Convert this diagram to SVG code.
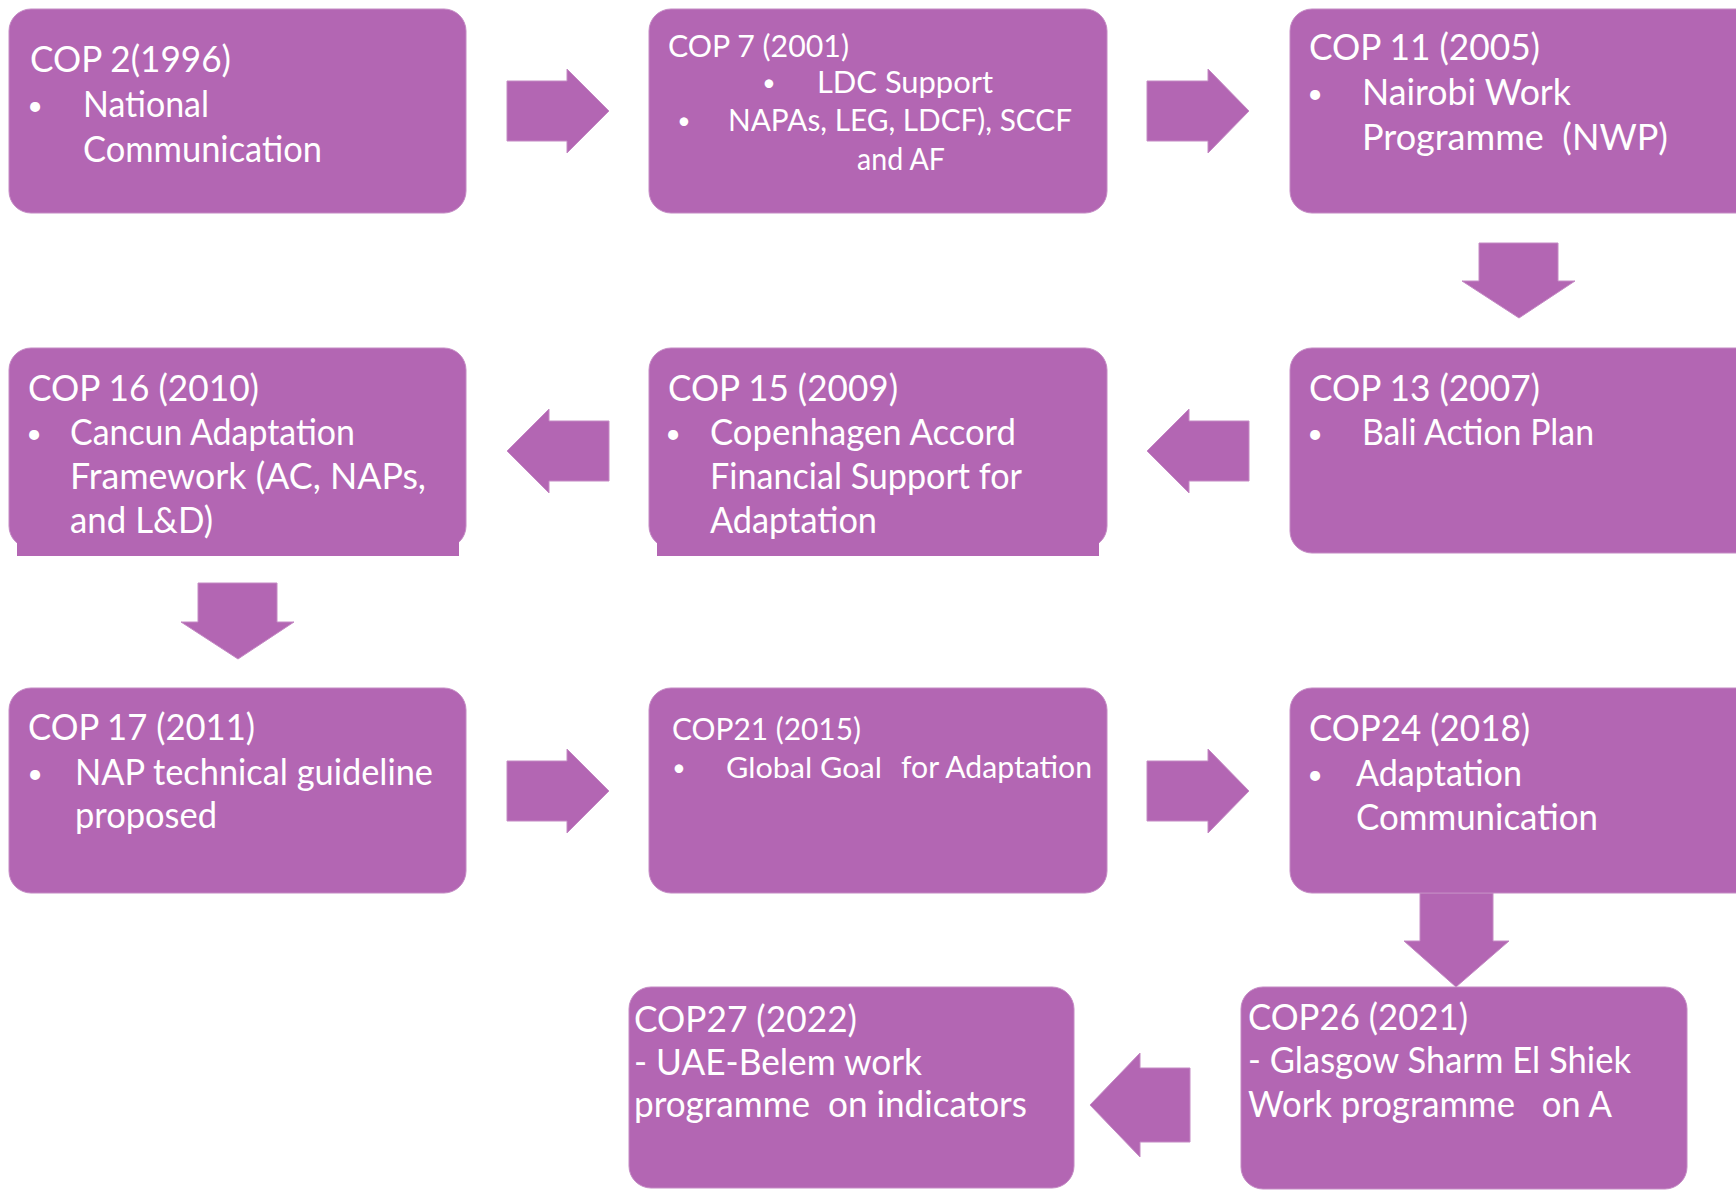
<svg xmlns="http://www.w3.org/2000/svg" width="1736" height="1190" viewBox="0 0 1736 1190">
<style>
.box{fill:#B366B3;stroke:#C48AC4;stroke-width:1}
.arr{fill:#B366B3;stroke:#C48AC4;stroke-width:1}
.t{font-family:Lato,"Open Sans","Liberation Sans",sans-serif;fill:#FFFFFF;font-size:37px}
.s{font-size:31px}
.b{text-anchor:middle;font-size:27px}
.bs{text-anchor:middle;font-size:23px}
</style>
<rect width="1736" height="1190" fill="#FFFFFF"/>
<g id="connectors">
<polygon class="arr" points="507,81 567,81 567,69 609,111 567,153 567,141 507,141"/>
<polygon class="arr" points="1147,81 1208,81 1208,69 1249,111 1208,153 1208,141 1147,141"/>
<polygon class="arr" points="1479,243 1558,243 1558,281 1575,281 1519,318 1462,281 1479,281"/>
<polygon class="arr" points="1249,421 1189,421 1189,409 1147,451 1189,493 1189,481 1249,481"/>
<polygon class="arr" points="609,421 549,421 549,409 507,451 549,493 549,481 609,481"/>
<polygon class="arr" points="198,583 277,583 277,622 294,622 238,659 181,622 198,622"/>
<polygon class="arr" points="507,761 567,761 567,749 609,791 567,833 567,821 507,821"/>
<polygon class="arr" points="1147,761 1208,761 1208,749 1249,791 1208,833 1208,821 1147,821"/>
<polygon class="arr" points="1420,893 1493,893 1493,941 1509,941 1456,987 1404,941 1420,941"/>
<polygon class="arr" points="1190,1068 1140,1068 1140,1053 1090,1105 1140,1157 1140,1142 1190,1142"/>
</g>
<g id="cop2">
<rect class="box" x="9" y="9" width="457" height="204" rx="22"/>
<text class="t" x="30" y="72" textLength="201" lengthAdjust="spacingAndGlyphs">COP 2(1996)</text>
<text class="t b" x="35" y="115">•</text>
<text class="t" x="83" y="117" textLength="126" lengthAdjust="spacingAndGlyphs">National</text>
<text class="t" x="83" y="162" textLength="239" lengthAdjust="spacingAndGlyphs">Communication</text>
</g>
<g id="cop7">
<rect class="box" x="649" y="9" width="458" height="204" rx="22"/>
<text class="t s" x="668" y="57" textLength="181" lengthAdjust="spacingAndGlyphs">COP 7 (2001)</text>
<text class="t bs" x="769" y="91">•</text>
<text class="t s" x="817" y="93" textLength="176" lengthAdjust="spacingAndGlyphs">LDC Support</text>
<text class="t bs" x="684" y="129">•</text>
<text class="t s" x="728" y="131" textLength="344" lengthAdjust="spacingAndGlyphs">NAPAs, LEG, LDCF), SCCF</text>
<text class="t s" x="857" y="170" textLength="88" lengthAdjust="spacingAndGlyphs">and AF</text>
</g>
<g id="cop11">
<rect class="box" x="1290" y="9" width="480" height="204" rx="22"/>
<text class="t" x="1309" y="60" textLength="231" lengthAdjust="spacingAndGlyphs">COP 11 (2005)</text>
<text class="t b" x="1315" y="103">•</text>
<text class="t" x="1362" y="105" textLength="209" lengthAdjust="spacingAndGlyphs">Nairobi Work</text>
<text class="t" x="1362" y="150" xml:space="preserve" style="white-space:pre" textLength="306" lengthAdjust="spacingAndGlyphs">Programme  (NWP)</text>
</g>
<g id="cop13">
<rect class="box" x="1290" y="348" width="480" height="205" rx="22"/>
<text class="t" x="1309" y="401" textLength="231" lengthAdjust="spacingAndGlyphs">COP 13 (2007)</text>
<text class="t b" x="1315" y="443">•</text>
<text class="t" x="1362" y="445" textLength="232" lengthAdjust="spacingAndGlyphs">Bali Action Plan</text>
</g>
<g id="cop15">
<rect class="box" x="649" y="348" width="458" height="200" rx="22"/>
<rect class="box" x="657" y="525" width="442" height="31" style="stroke:none"/>
<text class="t" x="668" y="401" textLength="230" lengthAdjust="spacingAndGlyphs">COP 15 (2009)</text>
<text class="t b" x="673" y="443">•</text>
<text class="t" x="710" y="445" textLength="306" lengthAdjust="spacingAndGlyphs">Copenhagen Accord</text>
<text class="t" x="710" y="489" textLength="312" lengthAdjust="spacingAndGlyphs">Financial Support for</text>
<text class="t" x="710" y="533" textLength="167" lengthAdjust="spacingAndGlyphs">Adaptation</text>
</g>
<g id="cop16">
<rect class="box" x="9" y="348" width="457" height="200" rx="22"/>
<rect class="box" x="17" y="525" width="442" height="31" style="stroke:none"/>
<text class="t" x="28" y="401" textLength="231" lengthAdjust="spacingAndGlyphs">COP 16 (2010)</text>
<text class="t b" x="34" y="443">•</text>
<text class="t" x="70" y="445" textLength="285" lengthAdjust="spacingAndGlyphs">Cancun Adaptation</text>
<text class="t" x="70" y="489" textLength="356" lengthAdjust="spacingAndGlyphs">Framework (AC, NAPs,</text>
<text class="t" x="70" y="533" textLength="143" lengthAdjust="spacingAndGlyphs">and L&amp;D)</text>
</g>
<g id="cop17">
<rect class="box" x="9" y="688" width="457" height="205" rx="22"/>
<text class="t" x="28" y="740" textLength="227" lengthAdjust="spacingAndGlyphs">COP 17 (2011)</text>
<text class="t b" x="35" y="783">•</text>
<text class="t" x="75" y="785" textLength="358" lengthAdjust="spacingAndGlyphs">NAP technical guideline</text>
<text class="t" x="75" y="828" textLength="142" lengthAdjust="spacingAndGlyphs">proposed</text>
</g>
<g id="cop21">
<rect class="box" x="649" y="688" width="458" height="205" rx="22"/>
<text class="t s" x="672" y="740" textLength="189" lengthAdjust="spacingAndGlyphs">COP21 (2015)</text>
<text class="t bs" x="679" y="776">•</text>
<text class="t" x="726" y="778" style="font-size:29px" textLength="156" lengthAdjust="spacingAndGlyphs">Global Goal</text>
<text class="t s" x="901" y="778" textLength="191" lengthAdjust="spacingAndGlyphs">for Adaptation</text>
</g>
<g id="cop24">
<rect class="box" x="1290" y="688" width="480" height="205" rx="22"/>
<text class="t" x="1309" y="741" textLength="221" lengthAdjust="spacingAndGlyphs">COP24 (2018)</text>
<text class="t b" x="1315" y="784">•</text>
<text class="t" x="1356" y="786" textLength="166" lengthAdjust="spacingAndGlyphs">Adaptation</text>
<text class="t" x="1356" y="830" textLength="242" lengthAdjust="spacingAndGlyphs">Communication</text>
</g>
<g id="cop26">
<rect class="box" x="1241" y="987" width="446" height="202" rx="22"/>
<text class="t" x="1248" y="1030" textLength="220" lengthAdjust="spacingAndGlyphs">COP26 (2021)</text>
<text class="t" x="1248" y="1073" textLength="383" lengthAdjust="spacingAndGlyphs">- Glasgow Sharm El Shiek</text>
<text class="t" x="1248" y="1117" xml:space="preserve" style="white-space:pre" textLength="364" lengthAdjust="spacingAndGlyphs">Work programme   on A</text>
</g>
<g id="cop27">
<rect class="box" x="629" y="987" width="445" height="201" rx="22"/>
<text class="t" x="634" y="1032" textLength="223" lengthAdjust="spacingAndGlyphs">COP27 (2022)</text>
<text class="t" x="634" y="1075" textLength="288" lengthAdjust="spacingAndGlyphs">- UAE-Belem work</text>
<text class="t" x="634" y="1117" xml:space="preserve" style="white-space:pre" textLength="393" lengthAdjust="spacingAndGlyphs">programme  on indicators</text>
</g>
</svg>
